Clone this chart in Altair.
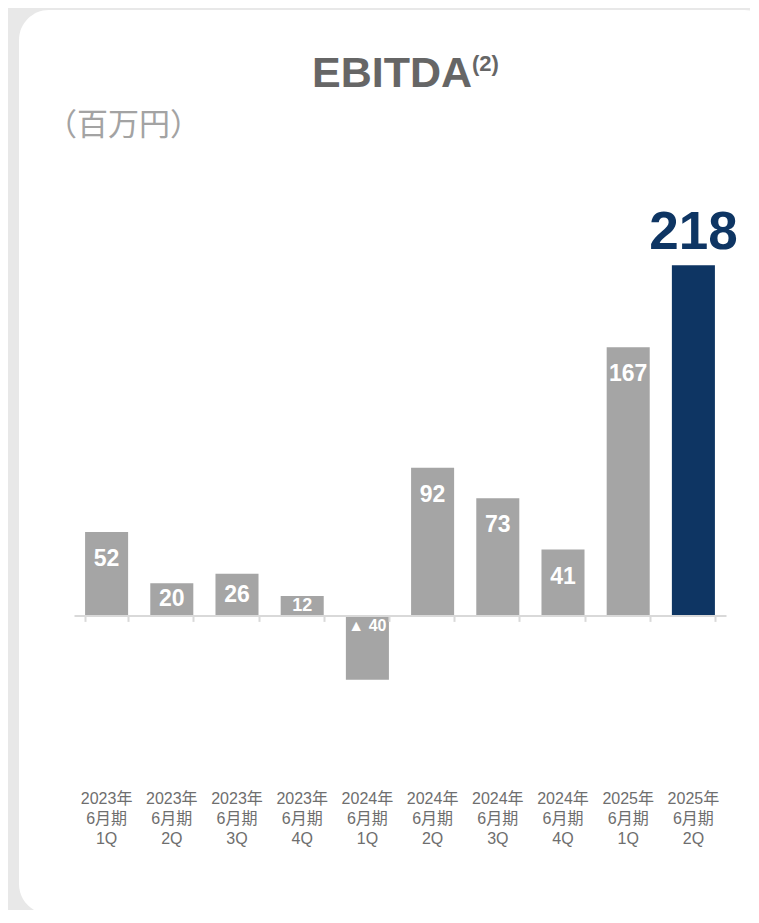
import altair as alt
import pandas as pd

# ---- data ----
years = ["2023年", "2023年", "2023年", "2023年", "2024年", "2024年", "2024年", "2024年", "2025年", "2025年"]
periods = ["6月期", "6月期", "6月期", "6月期", "6月期", "6月期", "6月期", "6月期", "6月期", "6月期"]
quarters = ["1Q", "2Q", "3Q", "4Q", "1Q", "2Q", "3Q", "4Q", "1Q", "2Q"]
ebitda = [52, 20, 26, 12, -40, 92, 73, 41, 167, 218]
highlight = [0, 0, 0, 0, 0, 0, 0, 0, 0, 1]

title_text = "EBITDA"
title_note = "(2)"
unit_text = "（百万円）"

df = pd.DataFrame({
    "period": [f"{y} {p} {q}" for y, p, q in zip(years, periods, quarters)],
    "value": ebitda,
    "hl": highlight,
})

W, H = 652, 530
FONT = "Liberation Sans, Arial, Noto Sans CJK JP, sans-serif"
CJK = "Noto Sans CJK JP, sans-serif"
GRAY = "#a5a5a5"
NAVY = "#0e3563"

xscale = alt.Scale(paddingInner=0.34, paddingOuter=0.17)
yscale = alt.Scale(domain=[-100, 230], nice=False, zero=False)
zero_offset = -H * 100 / 330  # zero line position relative to bottom

X = alt.X("period:N", sort=None, scale=xscale,
          axis=alt.Axis(title=None, domain=False, ticks=False, labelAngle=0,
                        labelExpr="split(datum.label, ' ')", labelFont=FONT,
                        labelFontSize=16, labelColor="#6e6e6e", labelLineHeight=20,
                        labelBaseline="top", labelPadding=14, orient="bottom", zindex=2))
Xbase = alt.X("period:N", sort=None, scale=xscale,
              axis=alt.Axis(title=None, labels=False, domain=True, domainColor="#d9d9d9",
                            domainWidth=2, ticks=True, tickColor="#d9d9d9", tickWidth=2,
                            tickSize=6, tickBand="extent", offset=zero_offset,
                            orient="bottom", zindex=1))
Xn = alt.X("period:N", sort=None, scale=xscale, axis=None)

one = alt.Chart(pd.DataFrame({"t": [title_text], "n": [title_note], "u": [unit_text]}))

card = one.mark_rect(color="white", cornerRadius=30).encode(
    x=alt.value(-55), x2=alt.value(700), y=alt.value(-236), y2=alt.value(668))

title = one.mark_text(font=FONT, fontSize=43, fontWeight="bold", color="#666666",
                      align="center", baseline="alphabetic").encode(
    x=alt.value(318), y=alt.value(-159.5), text="t:N")
note = one.mark_text(font=FONT, fontSize=22, fontWeight="bold", color="#666666",
                     align="left", baseline="alphabetic").encode(
    x=alt.value(398), y=alt.value(-175.5), text="n:N")
unit = one.mark_text(font=CJK, fontSize=31, color="#a3a3a3",
                     align="left", baseline="middle").encode(
    x=alt.value(-28), y=alt.value(-120.5), text="u:N")

base = alt.Chart(df)

axis_layer = base.mark_tick(opacity=0).encode(x=Xbase)

bars = base.mark_bar().encode(
    x=X,
    y=alt.Y("value:Q", scale=yscale, axis=None),
    color=alt.condition(alt.datum.hl == 1, alt.value(NAVY), alt.value(GRAY)),
)

big = base.transform_filter("datum.value >= 40 && datum.hl == 0").mark_text(
    font=FONT, fontSize=23, fontWeight="bold", color="white", baseline="middle", dy=27
).encode(x=Xn, y=alt.Y("value:Q", scale=yscale), text=alt.Text("value:Q"))

small = base.transform_filter("datum.value > 0 && datum.value < 40").transform_calculate(
    mid="datum.value / 2"
).mark_text(font=FONT, fontWeight="bold", color="white", baseline="middle", dy=0).encode(
    x=Xn, y=alt.Y("mid:Q", scale=yscale), text=alt.Text("value:Q"),
    size=alt.condition(alt.datum.value < 15, alt.value(18), alt.value(23)),
)

neg = base.transform_filter("datum.value < 0").transform_calculate(
    lab="'▲ ' + abs(datum.value)", zero="0"
).mark_text(font=FONT, fontSize=16, fontWeight="bold", color="white", baseline="middle", dy=11).encode(
    x=Xn, y=alt.Y("zero:Q", scale=yscale), text="lab:N")

top = base.transform_filter("datum.hl == 1").mark_text(
    font=FONT, fontSize=53, fontWeight="bold", color=NAVY, baseline="alphabetic", dy=-16
).encode(x=Xn, y=alt.Y("value:Q", scale=yscale), text=alt.Text("value:Q"))

chart = alt.layer(card, title, note, unit, axis_layer, bars, big, small, neg, top).resolve_axis(
    x="independent"
).properties(
    width=W, height=H,
    autosize=alt.AutoSizeParams(type="none"),
    padding={"left": 66, "top": 238, "right": 24, "bottom": 134},
    background="#e8e8e8",
).configure_view(stroke=None)

chart.save("out.html", embed_options={"renderer": "svg", "actions": False})
